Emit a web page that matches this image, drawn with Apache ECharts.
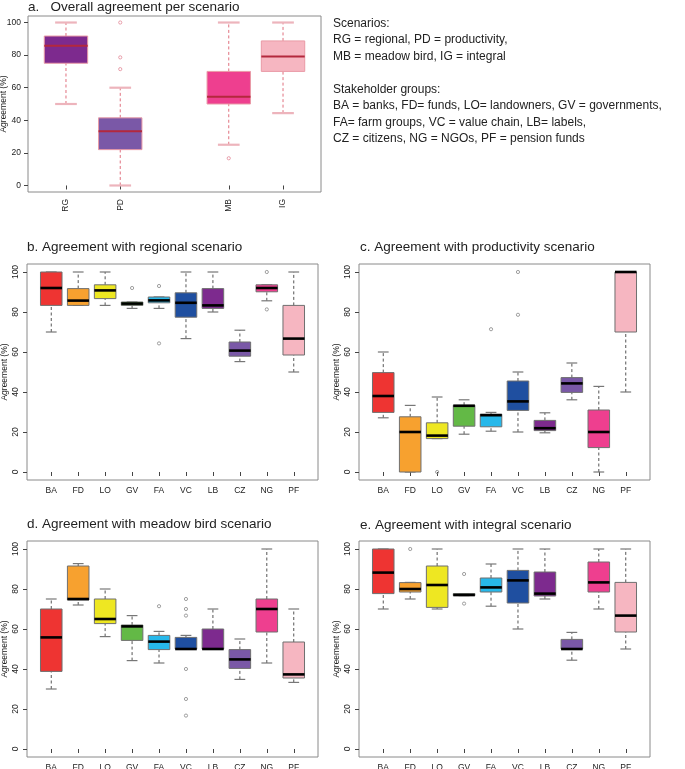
<!DOCTYPE html>
<html>
<head>
<meta charset="utf-8">
<script src="https://cdn.jsdelivr.net/npm/echarts@6/dist/echarts.min.js"></script>
<style>
html,body{margin:0;padding:0;background:#fff;}
#chart{width:685px;height:769px;}
</style>
</head>
<body>
<div id="chart"></div>
<script>
// ---------------- DATA ----------------
// Box stats: [min whisker, Q1, median, Q3, max whisker]
const scenarios = ['RG', 'PD', 'MB', 'IG'];
const overallStats = [
  [50, 75, 85.7, 91.7, 100],
  [0, 22, 33.3, 41.5, 60],
  [25, 50, 54.5, 70, 100],
  [44.4, 70, 79.2, 88.7, 100]
];
const overallOutliers = [['PD', 100], ['PD', 78.6], ['PD', 71.4], ['MB', 16.7]];

const groups = ['BA', 'FD', 'LO', 'GV', 'FA', 'VC', 'LB', 'CZ', 'NG', 'PF'];

const regionalStats = [
  [70, 83.3, 92, 100, 100],
  [83.3, 83.3, 85.7, 91.7, 100],
  [83.3, 86.7, 90.8, 93.6, 100],
  [81.8, 83.3, 84.2, 85, 85],
  [81.8, 84.6, 85.8, 87.5, 87.5],
  [66.7, 77.4, 84.6, 89.6, 100],
  [80, 81.8, 83.3, 91.7, 100],
  [55.2, 57.9, 60.7, 65, 70.9],
  [85.6, 90.1, 92, 93.6, 93.6],
  [50, 58.5, 66.7, 83.3, 100]
];
const regionalOutliers = [['GV', 92], ['FA', 93], ['FA', 64.3], ['NG', 100], ['NG', 81.3]];

const productivityStats = [
  [27.1, 29.8, 38, 49.7, 60],
  [0, 0, 20, 27.6, 33.3],
  [16.7, 16.7, 18.2, 24.6, 37.5],
  [18.9, 22.9, 33.1, 33.4, 36.1],
  [20.4, 22.6, 28.4, 28.9, 29.8],
  [20, 30.8, 35.3, 45.5, 50],
  [19.6, 20.7, 21.9, 25.8, 29.6],
  [36.1, 39.8, 44.3, 47.2, 54.5],
  [0, 12.2, 20, 31, 42.8],
  [40, 70, 100, 100, 100]
];
const productivityOutliers = [['LO', 0], ['FA', 71.4], ['VC', 100], ['VC', 78.6]];

const meadowStats = [
  [30, 38.8, 55.8, 70, 75],
  [72, 74.5, 75, 91.5, 92.7],
  [56.2, 62.7, 65, 75, 80],
  [44.2, 54.3, 61.3, 62, 66.7],
  [43, 49.7, 53.7, 56.8, 58.8],
  [50, 50, 50, 55.8, 56.8],
  [50, 50, 50, 60, 70],
  [34.8, 40.3, 44.8, 49.7, 55],
  [43, 58.5, 70, 75, 100],
  [33.3, 35.5, 37.3, 53.5, 70]
];
const meadowOutliers = [['FA', 71.4], ['VC', 75], ['VC', 70], ['VC', 66.7], ['VC', 40], ['VC', 25], ['VC', 16.7]];

const integralStats = [
  [70, 77.7, 88.2, 100, 100],
  [75, 78.5, 80, 83.2, 83.3],
  [70, 70.8, 82, 91.5, 100],
  [76.7, 76.7, 77, 77.7, 77.7],
  [71.4, 78.5, 80.8, 85.5, 92.5],
  [60, 73, 84.3, 89.3, 100],
  [75, 76.5, 77.7, 88.5, 100],
  [44.4, 50, 50, 54.8, 58.3],
  [70, 78.5, 83.3, 93.5, 100],
  [50, 58.5, 66.7, 83.3, 100]
];
const integralOutliers = [['FD', 100], ['GV', 87.5], ['GV', 72.7]];

const yTicks = [0, 20, 40, 60, 80, 100];

// ---------------- STYLE / LAYOUT ----------------
const FONT = '"Liberation Sans", Arial, Helvetica, sans-serif';
const scenarioColors = ['#7D2A8E', '#7A58A7', '#EE3F8F', '#F6B6C1'];
const groupColors = ['#EE3432', '#F7A12F', '#EEE722', '#63B946', '#27B8EA', '#1F4FA0', '#7D2A8E', '#7A58A7', '#EE3F8F', '#F6B6C1'];
const scenarioSlots = [1, 2, 4, 5]; // gap between PD and MB
const groupSlots = groups.map((g, i) => i + 1);

const styleA = { border: '#E99AA6', median: '#B3283D', medianWidth: 2, whisker: '#E0707E', cap: '#EDB4BC', capWidth: 2.2 };
const styleG = { border: '#6f6f6f', median: '#000000', medianWidth: 2.6, whisker: '#555555', cap: '#777777', capWidth: 1.2 };

function makeRender(colors, st) {
  return function (params, api) {
    const x = api.value(0);
    const v = [1, 2, 3, 4, 5].map(i => api.value(i));
    const bw = api.size([0.8, 0])[0];
    const cx = api.coord([x, 0])[0];
    const y = v.map(val => api.coord([x, val])[1]);
    const left = cx - bw / 2;
    const capHalf = bw / 4;
    const dash = { stroke: st.whisker, lineWidth: 1, lineDash: [3, 2.5] };
    const cap = { stroke: st.cap, lineWidth: st.capWidth };
    return {
      type: 'group',
      children: [
        { type: 'line', shape: { x1: cx, y1: y[0], x2: cx, y2: y[1] }, style: dash },
        { type: 'line', shape: { x1: cx, y1: y[3], x2: cx, y2: y[4] }, style: dash },
        { type: 'line', shape: { x1: cx - capHalf, y1: y[0], x2: cx + capHalf, y2: y[0] }, style: cap },
        { type: 'line', shape: { x1: cx - capHalf, y1: y[4], x2: cx + capHalf, y2: y[4] }, style: cap },
        { type: 'rect', shape: { x: left, y: y[3], width: bw, height: Math.max(y[1] - y[3], 0.5) },
          style: { fill: colors[params.dataIndex], stroke: st.border, lineWidth: 1 } },
        { type: 'line', shape: { x1: left, y1: y[2], x2: left + bw, y2: y[2] },
          style: { stroke: st.median, lineWidth: st.medianWidth } }
      ]
    };
  };
}

const panels = [
  { title: 'a.   Overall agreement per scenario', titleLeft: 28, titleTop: 0,
    grid: { left: 28, top: 16, width: 293, height: 176 },
    names: scenarios, slots: scenarioSlots, stats: overallStats, outliers: overallOutliers,
    colors: scenarioColors, st: styleA, xmin: 0.3, xmax: 5.7, rotX: 90, rotY: 0, nameGap: 20,
    outColor: '#E48A98', labelMarginY: 7 },
  { title: 'b. Agreement with regional scenario', titleLeft: 27, titleTop: 240,
    grid: { left: 27, top: 264, width: 291, height: 216 },
    names: groups, slots: groupSlots, stats: regionalStats, outliers: regionalOutliers,
    colors: groupColors, st: styleG, xmin: 0.1, xmax: 10.9, rotX: 0, rotY: 90, nameGap: 18,
    outColor: '#8a8a8a', labelMarginY: 7 },
  { title: 'c. Agreement with productivity scenario', titleLeft: 360, titleTop: 240,
    grid: { left: 359, top: 264, width: 291, height: 216 },
    names: groups, slots: groupSlots, stats: productivityStats, outliers: productivityOutliers,
    colors: groupColors, st: styleG, xmin: 0.1, xmax: 10.9, rotX: 0, rotY: 90, nameGap: 18,
    outColor: '#8a8a8a', labelMarginY: 7 },
  { title: 'd. Agreement with meadow bird scenario', titleLeft: 27, titleTop: 517,
    grid: { left: 27, top: 541, width: 291, height: 216 },
    names: groups, slots: groupSlots, stats: meadowStats, outliers: meadowOutliers,
    colors: groupColors, st: styleG, xmin: 0.1, xmax: 10.9, rotX: 0, rotY: 90, nameGap: 18,
    outColor: '#8a8a8a', labelMarginY: 7 },
  { title: 'e. Agreement with integral scenario', titleLeft: 360, titleTop: 518,
    grid: { left: 359, top: 541, width: 291, height: 216 },
    names: groups, slots: groupSlots, stats: integralStats, outliers: integralOutliers,
    colors: groupColors, st: styleG, xmin: 0.1, xmax: 10.9, rotX: 0, rotY: 90, nameGap: 18,
    outColor: '#8a8a8a', labelMarginY: 7 }
];

const option = {
  animation: false,
  backgroundColor: '#ffffff',
  textStyle: { fontFamily: FONT },
  title: [], grid: [], xAxis: [], yAxis: [], series: [],
  graphic: [{
    type: 'text', left: 333, top: 15,
    style: {
      text: 'Scenarios:\nRG = regional, PD = productivity,\nMB = meadow bird, IG = integral\n\nStakeholder groups:\nBA = banks, FD= funds, LO= landowners, GV = governments,\nFA= farm groups, VC = value chain, LB= labels,\nCZ = citizens, NG = NGOs, PF = pension funds',
      font: '12px ' + FONT, fill: '#222', lineHeight: 16.5
    }
  }]
};

panels.forEach((p, i) => {
  option.title.push({
    text: p.title, left: p.titleLeft, top: p.titleTop, padding: 0,
    textStyle: { fontSize: 13.5, fontWeight: 'normal', color: '#222', fontFamily: FONT }
  });
  option.grid.push(Object.assign({ show: true, borderColor: '#8a8a8a', borderWidth: 1,
    backgroundColor: 'transparent', containLabel: false, outerBoundsMode: 'none' }, p.grid));
  const slotValues = p.slots.slice();
  option.xAxis.push({
    gridIndex: i, type: 'value', min: p.xmin, max: p.xmax,
    axisLine: { show: false },
    splitLine: { show: false },
    axisTick: { show: true, customValues: slotValues, length: 4, lineStyle: { color: '#444' } },
    axisLabel: {
      customValues: slotValues, rotate: p.rotX, margin: p.rotX ? 7 : 6,
      fontSize: 8.5, color: '#222', fontFamily: FONT,
      formatter: (val) => { const k = p.slots.indexOf(Math.round(val)); return k >= 0 ? p.names[k] : ''; }
    }
  });
  option.yAxis.push({
    gridIndex: i, type: 'value', min: -4, max: 104,
    name: 'Agreement (%)', nameLocation: 'middle', nameRotate: 90, nameGap: p.nameGap,
    nameMoveOverlap: false,
    nameTextStyle: { fontSize: 8.5, color: '#222', fontFamily: FONT },
    axisLine: { show: false },
    splitLine: { show: false },
    axisTick: { show: true, customValues: yTicks, length: 4, lineStyle: { color: '#444' } },
    axisLabel: { customValues: yTicks, rotate: p.rotY, margin: p.labelMarginY,
      fontSize: 8.5, color: '#222', fontFamily: FONT }
  });
  option.series.push({
    type: 'custom', xAxisIndex: i, yAxisIndex: i,
    renderItem: makeRender(p.colors, p.st),
    encode: { x: 0, y: [1, 2, 3, 4, 5] },
    data: p.stats.map((s, k) => [p.slots[k]].concat(s)),
    z: 2
  });
  option.series.push({
    type: 'scatter', xAxisIndex: i, yAxisIndex: i,
    symbol: 'circle', symbolSize: 3.2,
    itemStyle: { color: 'transparent', borderColor: p.outColor, borderWidth: 1 },
    data: p.outliers.map(o => [p.slots[p.names.indexOf(o[0])], o[1]]),
    z: 3
  });
});

const chart = echarts.init(document.getElementById('chart'), null, { renderer: 'canvas' });
chart.setOption(option);
</script>
</body>
</html>
